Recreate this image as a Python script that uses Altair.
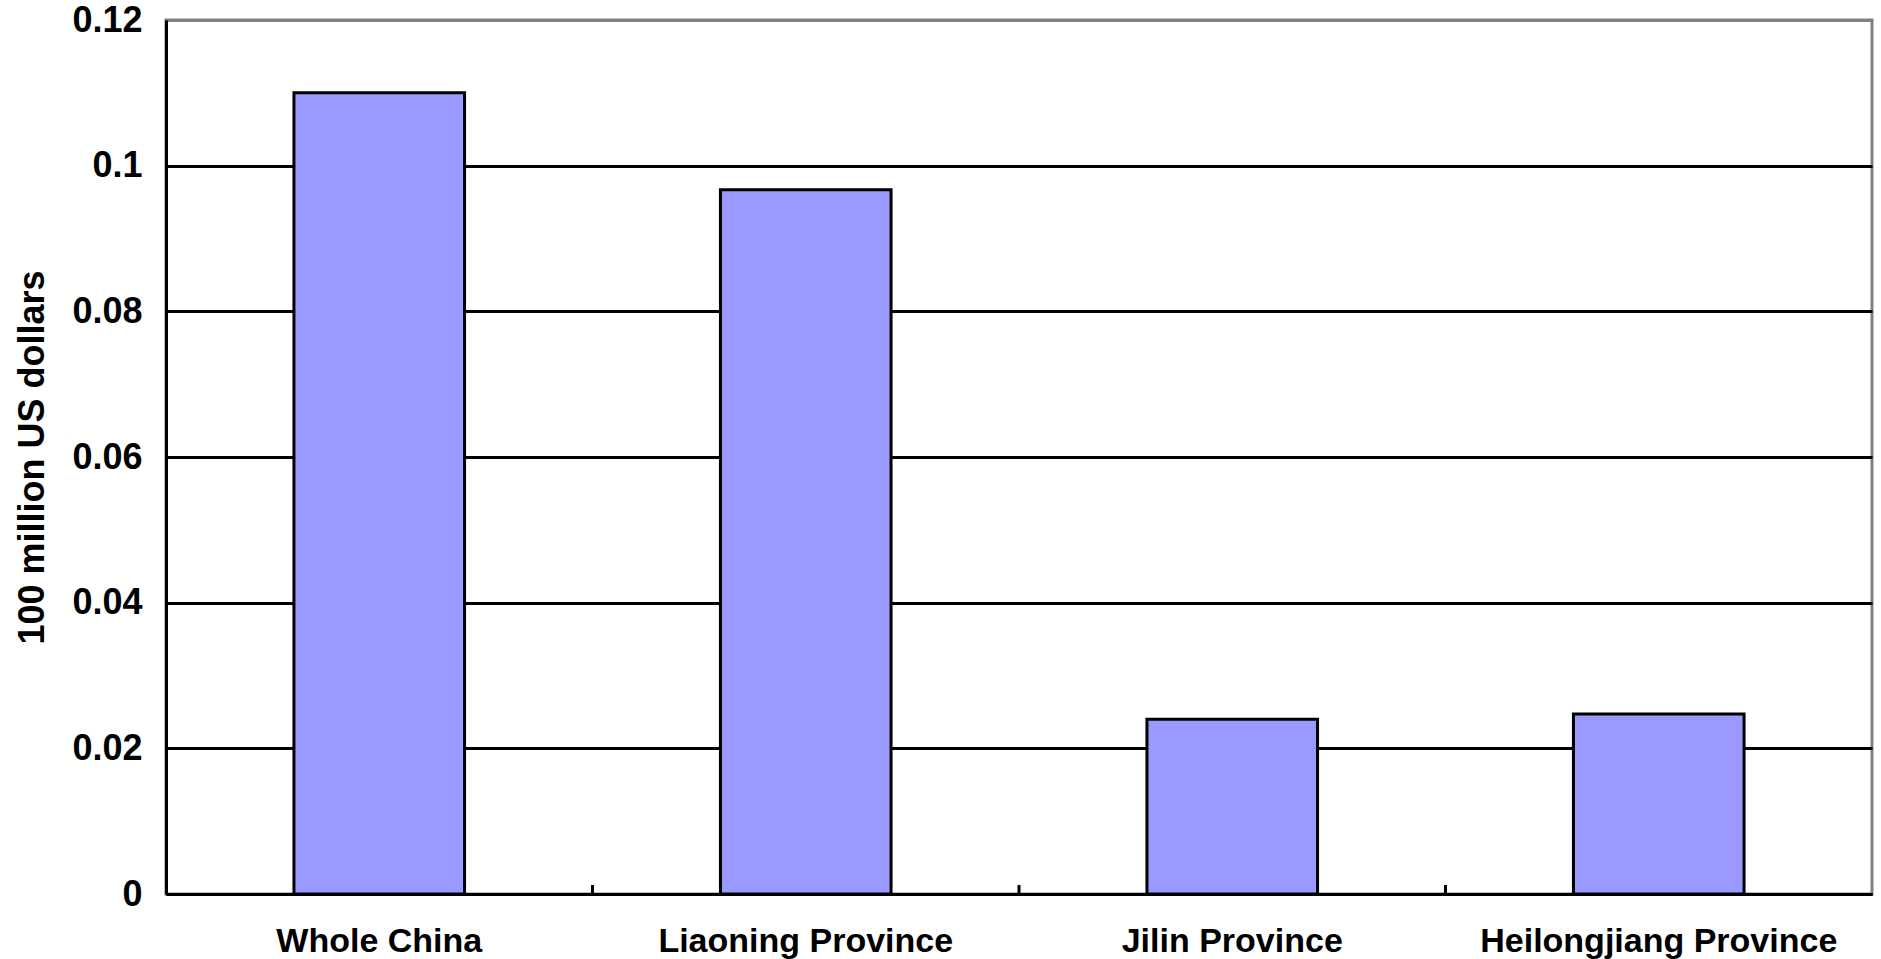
import altair as alt
import pandas as pd

categories = ["Whole China", "Liaoning Province", "Jilin Province", "Heilongjiang Province"]
values = [0.110, 0.0967, 0.0240, 0.0247]
y_ticks = [0, 0.02, 0.04, 0.06, 0.08, 0.1, 0.12]

df = pd.DataFrame({"region": categories, "value": values})
tick_df = pd.DataFrame({"region": categories[1:]})

W, H = 1706, 874
FONT = "Liberation Sans"

x_scale = alt.Scale(paddingInner=0, paddingOuter=0)

x_enc = alt.X(
    "region:N",
    sort=categories,
    scale=x_scale,
    axis=alt.Axis(
        title=None,
        labelAngle=0,
        labelFont=FONT,
        labelFontSize=34,
        labelFontWeight="bold",
        labelColor="black",
        labelPadding=30,
        labelLimit=1000,
        ticks=False,
        domainColor="black",
        domainWidth=3,
        grid=False,
    ),
)

bars = alt.Chart(df).mark_bar(
    color="#9999FF", stroke="black", strokeWidth=3, width=alt.RelativeBandSize(0.40)
).encode(
    x=x_enc,
    y=alt.Y(
        "value:Q",
        scale=alt.Scale(domain=[0, 0.12], nice=False),
        axis=alt.Axis(
            title="100 million US dollars",
            titleFont=FONT,
            titleFontSize=36,
            titleFontWeight="bold",
            titleColor="black",
            titlePadding=20,
            values=y_ticks,
            format=".2~f",
            labelFont=FONT,
            labelFontSize=36,
            labelFontWeight="bold",
            labelColor="black",
            labelPadding=24,
            ticks=False,
            domainColor="black",
            domainWidth=3,
            grid=True,
            gridColor=alt.expr("datum.value >= 0.119 ? '#808080' : 'black'"),
            gridWidth=3,
            gridOpacity=1,
        ),
    ),
)

ticks = alt.Chart(tick_df).mark_rule(color="black", strokeWidth=3).encode(
    x=alt.X("region:N", sort=categories, bandPosition=0),
    y=alt.value(H - 9),
    y2=alt.value(H),
)

chart = alt.layer(bars, ticks).properties(
    width=W,
    height=H,
    padding={"left": 166, "top": 20, "right": 9, "bottom": 65},
    autosize=alt.AutoSizeParams(type="none"),
    background="white",
).configure_view(
    stroke="#808080", strokeWidth=3
)

chart.save("out.html", embed_options={"renderer": "svg", "actions": False})
